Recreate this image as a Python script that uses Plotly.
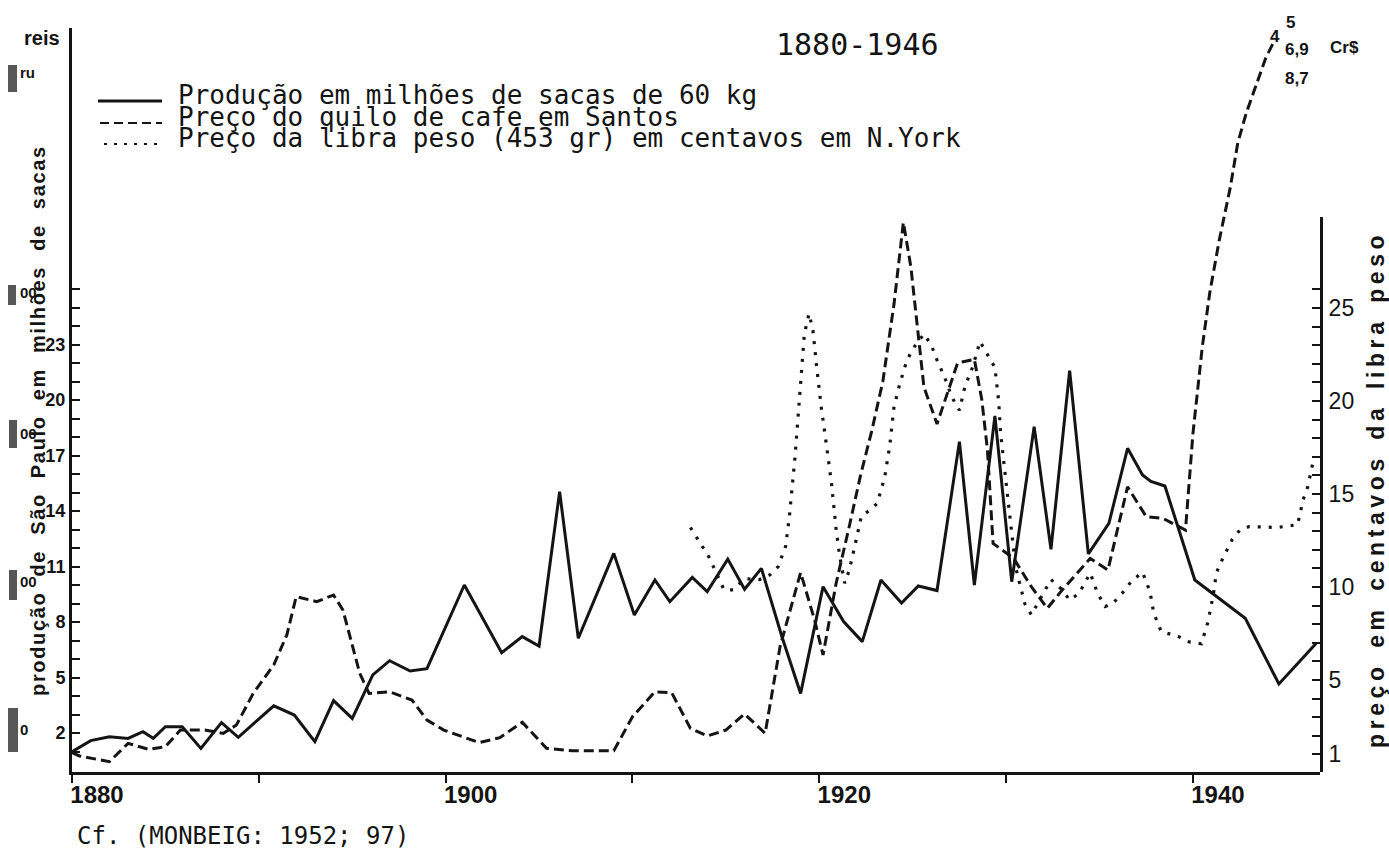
import plotly.graph_objects as go

# ---------------- data ----------------
# Production of São Paulo, millions of 60 kg bags (left axis)
prod_year = [1880.0, 1881.0, 1882.0, 1883.0, 1883.8, 1884.35, 1885.0, 1885.9, 1886.9, 1888.0,
             1888.9, 1890.8, 1891.9, 1893.0, 1894.0, 1895.0, 1896.1, 1897.0, 1898.1, 1899.0,
             1901.0, 1903.0, 1904.1, 1905.0, 1906.1, 1907.1, 1909.0, 1910.1, 1911.2, 1912.0,
             1913.2, 1914.0, 1915.1, 1916.0, 1916.9, 1918.0, 1919.0, 1920.2, 1921.3, 1922.3,
             1923.3, 1924.4, 1925.3, 1926.3, 1927.5, 1928.3, 1929.4, 1930.3, 1931.5, 1932.4,
             1933.4, 1934.4, 1935.5, 1936.5, 1937.3, 1937.75, 1938.5, 1940.1, 1942.8, 1944.6,
             1946.6]
prod_val = [0.99, 1.59, 1.8, 1.71, 2.07, 1.71, 2.34, 2.34, 1.17, 2.56,
            1.77, 3.47, 2.97, 1.53, 3.75, 2.79, 5.14, 5.91, 5.35, 5.48,
            10.0, 6.34, 7.21, 6.7, 15.05, 7.12, 11.71, 8.38, 10.27, 9.1,
            10.41, 9.64, 11.4, 9.77, 10.9, 7.2, 4.14, 9.91, 8.02, 6.94,
            10.27, 9.03, 9.95, 9.7, 17.75, 10.0, 19.14, 10.18, 18.56, 11.93,
            21.59, 11.68, 13.33, 17.39, 15.95, 15.6, 15.35, 10.27, 8.2, 4.65,
            6.85]

# Price of a kilo of coffee in Santos (reis scale, read in left-axis units)
santos_year = [1880.0, 1880.4, 1882.0, 1883.0, 1884.1, 1885.0, 1885.8, 1887.1, 1888.1, 1888.8,
               1889.7, 1890.8, 1891.5, 1892.0, 1893.1, 1894.0, 1894.5, 1895.4, 1895.9, 1897.0,
               1898.2, 1899.0, 1899.9, 1900.9, 1901.8, 1902.9, 1904.1, 1905.4, 1906.8, 1909.0,
               1910.0, 1911.2, 1912.1, 1913.1, 1914.0, 1915.0, 1916.0, 1917.1, 1917.9, 1919.0,
               1919.75, 1920.2, 1920.9, 1921.6, 1922.2, 1922.8, 1923.4, 1924.0, 1924.5, 1924.9,
               1925.2, 1925.6, 1926.3, 1927.0, 1927.4, 1928.3, 1928.7, 1929.0, 1929.3, 1930.4,
               1931.35, 1932.2, 1933.0, 1934.5, 1935.45, 1936.5, 1937.5, 1938.4, 1939.6, 1940.0,
               1940.5, 1940.9, 1941.4, 1942.0, 1942.4, 1942.85, 1943.4, 1943.9, 1944.3]
santos_val = [0.94, 0.76, 0.45, 1.44, 1.12, 1.26, 2.16, 2.16, 1.98, 2.43,
              4.14, 5.68, 7.3, 9.37, 9.1, 9.46, 8.65, 5.23, 4.14, 4.23,
              3.78, 2.7, 2.16, 1.8, 1.48, 1.75, 2.58, 1.17, 1.04, 1.04,
              2.88, 4.23, 4.18, 2.25, 1.84, 2.16, 3.03, 1.98, 6.67, 10.67,
              8.1, 6.22, 10.09, 13.15, 15.9, 18.3, 21.0, 25.2, 29.6, 27.2,
              24.3, 20.7, 18.7, 20.8, 22.0, 22.2, 20.0, 17.3, 12.25, 11.44,
              9.91, 8.74, 9.73, 11.44, 10.81, 15.31, 13.69, 13.6, 12.97, 18.2,
              22.88, 25.8, 28.6, 31.5, 33.9, 35.5, 37.1, 38.5, 39.3]

# Price of a pound (453 g) in cents in New York (right axis)
ny_year = [1913.1, 1913.7, 1914.1, 1914.9, 1915.4, 1916.0, 1916.8, 1917.35, 1917.8, 1918.2,
           1918.4, 1918.7, 1918.95, 1919.2, 1919.45, 1919.66, 1919.84, 1920.1, 1920.4, 1920.65,
           1920.9, 1921.1, 1921.36, 1921.6, 1921.9, 1922.25, 1922.8, 1923.1, 1923.5, 1923.77,
           1924.0, 1924.3, 1924.66, 1925.0, 1925.6, 1926.0, 1926.3, 1926.7, 1927.1, 1927.5,
           1927.8, 1928.2, 1928.6, 1928.9, 1929.4, 1929.6, 1929.7, 1929.9, 1930.1, 1930.3,
           1930.5, 1931.0, 1931.35, 1931.9, 1932.4, 1933.0, 1933.4, 1933.9, 1934.5, 1934.9,
           1935.3, 1935.7, 1936.2, 1936.7, 1937.3, 1937.7, 1937.9, 1938.3, 1939.2, 1939.8,
           1940.45, 1940.8, 1941.1, 1941.25, 1941.6, 1942.1, 1942.5, 1943.0, 1944.5, 1945.6,
           1945.9, 1946.15, 1946.4]
ny_val = [13.2, 12.2, 11.6, 9.85, 9.85, 10.45, 10.4, 10.65, 11.1, 12.2,
          13.8, 17.0, 20.6, 23.6, 24.7, 23.8, 22.0, 19.7, 17.5, 15.6,
          13.1, 11.6, 10.2, 10.9, 12.2, 13.8, 14.2, 14.5, 15.9, 17.6,
          19.7, 20.9, 22.1, 22.8, 23.6, 23.0, 22.2, 21.3, 20.2, 19.5,
          20.8, 21.8, 23.2, 22.7, 21.8, 20.0, 18.3, 16.5, 14.7, 13.1,
          11.1, 9.1, 8.5, 9.5, 10.4, 9.85, 9.3, 9.65, 10.75, 9.65,
          8.95, 9.1, 9.65, 10.3, 10.8, 9.75, 8.6, 7.6, 7.35, 7.05,
          6.95, 8.1, 9.65, 10.75, 11.55, 12.55, 13.05, 13.25, 13.2, 13.35,
          14.7, 15.4, 16.6]

x_ticks = [1880, 1890, 1900, 1910, 1920, 1930, 1940]
x_ticktext = ["1880", "", "1900", "", "1920", "", "1940"]
left_ticks = list(range(1, 27))
left_labels = [2, 5, 8, 11, 14, 17, 20, 23]
reis_ticks = [26, 30, 34, 38]
reis_labels = ["0", "00", "00", "00", "ru"]
reis_label_pos = [2.2, 10.2, 18.2, 25.8, 37.7]
right_ticks = list(range(1, 27))
right_labels = [1, 5, 10, 15, 20, 25]
legend_texts = ["Produção em milhões de sacas de 60 kg",
                "Preço do quilo de cafe em Santos",
                "Preço da libra peso (453 gr) em centavos em N.York"]
left_title_words = ["produção", "de", "São", "Paulo", "em", "milhões", "de", "sacas"]
right_title_words = ["preço", "em", "centavos", "da", "libra", "peso"]
top_notes = [("5", 1290, 22), ("4", 1275, 37), ("6,9", 1297, 50), ("Cr$", 1344, 48), ("8,7", 1297, 78)]

# ---------------- layout geometry (pixels) ----------------
WIDTH, HEIGHT = 1389, 849
L, R, T, B = 72, 1320, 28, 772
PW, PH = R - L, B - T

def px(x):
    return (x - L) / PW

def py(y):
    return (B - y) / PH

INK = "#141414"
NARROW = "Liberation Sans Narrow, Liberation Sans, Arial, sans-serif"
SANS = "Liberation Sans, Arial, sans-serif"
MONO = "DejaVu Sans Mono, Liberation Mono, monospace"

fig = go.Figure()
fig.add_trace(go.Scatter(x=prod_year, y=prod_val, mode="lines", yaxis="y",
                         line=dict(color=INK, width=3), name=legend_texts[0]))
fig.add_trace(go.Scatter(x=santos_year, y=santos_val, mode="lines", yaxis="y",
                         line=dict(color=INK, width=3, dash="10px,5px"), name=legend_texts[1]))
fig.add_trace(go.Scatter(x=ny_year, y=ny_val, mode="lines", yaxis="y2",
                         line=dict(color=INK, width=3.2, dash="3px,8px"), name=legend_texts[2]))

left_text = [str(v) if v in left_labels else "" for v in left_ticks]
right_text = [str(v) if v in right_labels else "" for v in right_ticks]

ymin = -(B - 770) / 18.5
ymax = (770 - T) / 18.5
y2min = (773 - B) / 18.6
y2max = (773 - 217) / 18.6

fig.update_layout(
    width=WIDTH, height=HEIGHT, autosize=False,
    margin=dict(l=L, r=WIDTH - R, t=T, b=HEIGHT - B),
    paper_bgcolor="white", plot_bgcolor="rgba(0,0,0,0)",
    showlegend=False,
    xaxis=dict(range=[1880, 1946.8], showline=True, linewidth=3, linecolor=INK,
               showgrid=False, zeroline=False, ticks="outside", ticklen=8, tickwidth=2,
               tickcolor=INK, tickvals=x_ticks, ticktext=x_ticktext,
               tickfont=dict(family=NARROW, size=24, color=INK, weight="bold"),
               ticklabelshift=25, ticklabelstandoff=-9),
    yaxis=dict(range=[ymin, ymax], showline=True, linewidth=3, linecolor=INK,
               showgrid=False, zeroline=False, ticks="inside", ticklen=8, tickwidth=2,
               tickcolor=INK, tickvals=left_ticks, ticktext=left_text,
               tickfont=dict(family=NARROW, size=18, color=INK, weight="bold"),
               ticklabelstandoff=0),
    yaxis3=dict(range=[ymin, ymax], overlaying="y", anchor="x", side="left",
                showline=False, showgrid=False, zeroline=False, ticks="inside",
                ticklen=14, tickwidth=2, tickcolor=INK, tickvals=reis_ticks,
                showticklabels=False),
    yaxis2=dict(range=[y2min, y2max], domain=[0, py(217)], anchor="x", side="right",
                showline=True, linewidth=3, linecolor=INK, showgrid=False, zeroline=False,
                ticks="inside", ticklen=8, tickwidth=2, tickcolor=INK,
                tickvals=right_ticks, ticktext=right_text,
                tickfont=dict(family=SANS, size=23, color=INK), ticklabelstandoff=1),
)

ann = []
shapes = []
# title
ann.append(dict(text="1880-1946", x=px(857), y=py(45), xref="paper", yref="paper",
                showarrow=False, xanchor="center", yanchor="middle",
                font=dict(family=MONO, size=30, color=INK)))
# legend
leg_y = [99, 121, 142]
leg_dash = ["solid", "9px,5px", "3px,7px"]
leg_x0 = [98, 100, 104]
for txt, yy, dsh, x0 in zip(legend_texts, leg_y, leg_dash, leg_x0):
    shapes.append(dict(type="line", xref="paper", yref="paper", x0=px(x0), x1=px(162),
                       y0=py(yy + 2), y1=py(yy + 2),
                       line=dict(color=INK, width=3 if dsh == "solid" else 2, dash=dsh)))
    ann.append(dict(text=txt, x=px(176), y=py(yy - 4), xref="paper", yref="paper",
                    showarrow=False, xanchor="left", yanchor="middle",
                    font=dict(family=MONO, size=26, color=INK)))
# axis titles
left_title = "\u00a0\u00a0\u00a0".join("\u200a".join(w) for w in left_title_words)
ann.append(dict(text=left_title, x=px(38), y=py(422), xref="paper", yref="paper", textangle=-90,
                showarrow=False, xanchor="center", yanchor="middle",
                font=dict(family=NARROW, size=20, color=INK, weight="bold")))
right_title = "\u00a0\u00a0\u00a0".join("\u2009".join(w) for w in right_title_words)
ann.append(dict(text=right_title, x=px(1376), y=py(492), xref="paper", yref="paper", textangle=-90,
                showarrow=False, xanchor="center", yanchor="middle",
                font=dict(family=NARROW, size=23, color=INK, weight="bold")))
# reis axis labels
ann.append(dict(text="reis", x=px(42), y=py(38), xref="paper", yref="paper",
                showarrow=False, xanchor="center", yanchor="middle",
                font=dict(family=SANS, size=20, color=INK, weight="bold")))
for lab, pos in zip(reis_labels, reis_label_pos):
    ypix = 770 - pos * 18.5
    ann.append(dict(text=lab, x=px(18), y=py(ypix), xref="paper", yref="paper",
                    showarrow=False, xanchor="left", yanchor="middle",
                    font=dict(family=NARROW, size=15, color=INK, weight="bold")))
bars = [(8, 17, 65, 92), (8, 16, 285, 305), (9, 17, 420, 448), (9, 17, 570, 600), (8, 18, 708, 752)]
for x0, x1, y0, y1 in bars:
    shapes.append(dict(type="rect", xref="paper", yref="paper", x0=px(x0), x1=px(x1),
                       y0=py(y1), y1=py(y0), fillcolor="#3a3a3a", line=dict(width=0), opacity=0.85))
# notes at the top of the Santos curve
for txt, xx, yy in top_notes:
    ann.append(dict(text=txt, x=px(xx), y=py(yy), xref="paper", yref="paper",
                    showarrow=False, xanchor="center", yanchor="middle",
                    font=dict(family=NARROW, size=17, color=INK, weight="bold")))
# source
ann.append(dict(text="Cf. (MONBEIG: 1952; 97)", x=px(75), y=py(836), xref="paper", yref="paper",
                showarrow=False, xanchor="left", yanchor="middle",
                font=dict(family=MONO, size=24, color=INK)))

fig.update_layout(annotations=ann, shapes=shapes)
fig.write_html("out.html", config={"displayModeBar": False},
               post_script="document.body.style.margin='0';")
